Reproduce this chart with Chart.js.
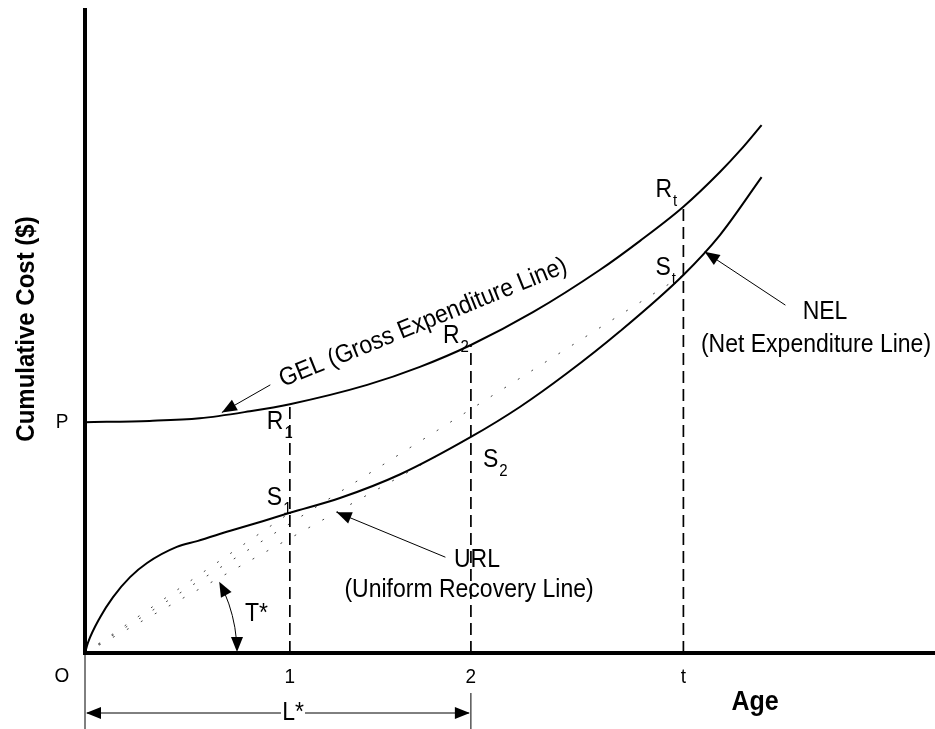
<!DOCTYPE html>
<html>
<head>
<meta charset="utf-8">
<script src="https://cdn.jsdelivr.net/npm/chart.js@4.4.1/dist/chart.umd.min.js"></script>
<style>
  html, body { margin: 0; padding: 0; background: #fff; }
  #wrap { position: relative; width: 935px; height: 729px; }
</style>
</head>
<body>
<div id="wrap"><canvas id="costChart"></canvas></div>
<script>
// age and cumulative cost both on an arbitrary 0..100 scale
const gelAge  = [0, 7.6, 13.5, 19.4, 24.1, 33.2, 39.4, 45.4, 52.7, 60.6, 65.3, 70.4, 74.7, 77.1, 79.6];
const gelCost = [35.9, 36.1, 36.5, 37.6, 38.7, 41.7, 44.5, 47.9, 53.0, 59.6, 64.1, 69.4, 74.8, 78.2, 82.1];

const nelAge  = [0, 0.35, 1.8, 3.3, 5.3, 7.3, 10.8, 13.2, 17.1, 20.9, 24.1, 30.0, 37.1, 45.4, 51.2, 56.7, 62.9, 70.4, 74.7, 79.6];
const nelCost = [0, 1.6, 5.6, 8.7, 11.8, 14.0, 16.5, 17.4, 19.0, 20.5, 21.8, 24.1, 27.8, 33.6, 38.3, 43.5, 50.0, 58.8, 65.0, 74.0];

const markAge    = [24.1, 45.4, 70.4];   // ages 1, 2 and t
const markLabels = ['1', '2', 't'];
const markSub    = ['1', '2', 't'];
const gelAtMark  = [38.7, 47.9, 69.4];   // R1, R2, Rt
const nelAtMark  = [21.8, 33.6, 58.8];   // S1, S2, St
const pCost = 35.9;
const lStarAge = 45.4;

const pts = (xs, ys) => xs.map((x, i) => ({ x, y: ys[i] }));
const FONT = '"Liberation Sans", Arial, sans-serif';

const datasets = [
    { data: pts(gelAge, gelCost), borderWidth: 2, cubicInterpolationMode: 'monotone' },
    { data: pts(nelAge, nelCost), borderWidth: 2, cubicInterpolationMode: 'monotone' },
    { data: [{ x: 0, y: 0 }, { x: 0, y: 100 }], borderWidth: 4, clip: false, borderCapStyle: 'square' },
    { data: [{ x: 0, y: 0 }, { x: 100, y: 0 }], borderWidth: 4, clip: false, borderCapStyle: 'square' }
];
markAge.forEach((a, i) => {
    datasets.push({ data: [{ x: a, y: 0 }, { x: a, y: gelAtMark[i] }], borderWidth: 1.7, borderDash: [12, 6] });
    datasets.push({ data: [{ x: 0, y: 0 }, { x: a, y: nelAtMark[i] }], borderWidth: 1, borderDash: [2, 14], borderColor: '#444' });
});

function arrowHead(ctx, x, y, dx, dy, len = 15, half = 6) {
    const l = Math.hypot(dx, dy), ux = dx / l, uy = dy / l;
    ctx.beginPath();
    ctx.moveTo(x, y);
    ctx.lineTo(x - ux * len - uy * half, y - uy * len + ux * half);
    ctx.lineTo(x - ux * len + uy * half, y - uy * len - ux * half);
    ctx.closePath();
    ctx.fill();
}

function pointer(ctx, x1, y1, x2, y2) {
    ctx.beginPath();
    ctx.moveTo(x1, y1);
    ctx.lineTo(x2, y2);
    ctx.stroke();
    arrowHead(ctx, x2, y2, x2 - x1, y2 - y1);
}

function text(ctx, s, x, y, size, opts = {}) {
    ctx.save();
    ctx.translate(x, y);
    if (opts.rot) ctx.rotate(opts.rot);
    ctx.scale(1, 1.1);
    ctx.font = (opts.bold ? 'bold ' : '') + size + 'px ' + FONT;
    ctx.textAlign = opts.align || 'left';
    ctx.textBaseline = opts.base || 'alphabetic';
    ctx.fillText(s, 0, 0);
    ctx.restore();
}

function subLabel(ctx, main, sub, x, y) {
    ctx.font = '23px ' + FONT;
    const w = ctx.measureText(main).width;
    text(ctx, main, x, y, 23);
    text(ctx, sub, x + w + 1, y + 9, 15);
}

const annotations = {
    id: 'annotations',
    afterDatasetsDraw(chart) {
        const ctx = chart.ctx;
        const X = v => chart.scales.x.getPixelForValue(v);
        const Y = v => chart.scales.y.getPixelForValue(v);
        ctx.save();
        ctx.fillStyle = '#000';
        ctx.strokeStyle = '#000';
        ctx.lineWidth = 1;

        // tick labels
        text(ctx, 'O', 62, Y(0) + 23, 19, { align: 'center', base: 'middle' });
        text(ctx, 'P', 62, Y(pCost), 19, { align: 'center', base: 'middle' });
        markAge.forEach((a, i) => text(ctx, markLabels[i], X(a), Y(0) + 24, 19, { align: 'center', base: 'middle' }));

        // axis titles
        text(ctx, 'Age', 755, 702, 25, { bold: true, align: 'center', base: 'middle' });
        text(ctx, 'Cumulative Cost ($)', 27, 329, 24, { bold: true, align: 'center', base: 'middle', rot: -Math.PI / 2 });

        // R and S labels
        ['R', 'S'].forEach(letter => {
            const vals = letter === 'R' ? gelAtMark : nelAtMark;
            markAge.forEach((a, i) => {
                let dx = -23, dy = -4;
                if (letter === 'S' && i === 1) { dx = 12; dy = 30; }
                if (letter === 'R' && i === 1) { dx = -28; dy = -2; }
                if (letter === 'R' && i === 0) { dy = 25; }
                if (letter === 'S' && i === 0) { dy = -8; }
                if (letter === 'R' && i === 2) { dx = -28; dy = -10; }
                if (letter === 'S' && i === 2) { dx = -28; dy = 0; }
                subLabel(ctx, letter, markSub[i], X(a) + dx, Y(vals[i]) + dy);
            });
        });

        // line names
        text(ctx, 'GEL (Gross Expenditure Line)', 283, 387, 23, { rot: -22 * Math.PI / 180 });
        text(ctx, 'NEL', 825, 312, 23, { align: 'center', base: 'middle' });
        text(ctx, '(Net Expenditure Line)', 816, 345, 23, { align: 'center', base: 'middle' });
        text(ctx, 'URL', 477, 560, 23, { align: 'center', base: 'middle' });
        text(ctx, '(Uniform Recovery Line)', 469, 590, 23, { align: 'center', base: 'middle' });

        // pointers
        pointer(ctx, X(21.8), Y(41.7), X(16.1), Y(37.4));
        pointer(ctx, X(42.4), Y(14.9), X(29.6), Y(21.9));
        pointer(ctx, X(82.4), Y(54.1), X(72.9), Y(62.4));

        // T* angle arc
        const ox = X(0), oy = Y(0), r = 152, th = 28 * Math.PI / 180;
        ctx.beginPath();
        ctx.arc(ox, oy, r, -th + 0.08, -0.09);
        ctx.stroke();
        arrowHead(ctx, ox + r, oy - 1, 0, 1);
        arrowHead(ctx, ox + r * Math.cos(th), oy - r * Math.sin(th), -Math.sin(th), -Math.cos(th));
        text(ctx, 'T*', 245, 614, 23, { base: 'middle' });

        // L* dimension
        const ly = 713, lx2 = X(lStarAge);
        ctx.beginPath();
        ctx.moveTo(ox, oy); ctx.lineTo(ox, 729);
        ctx.moveTo(lx2, 693); ctx.lineTo(lx2, 729);
        ctx.moveTo(ox + 2, ly); ctx.lineTo(lx2 - 2, ly);
        ctx.stroke();
        arrowHead(ctx, ox + 1, ly, -1, 0);
        arrowHead(ctx, lx2 - 1, ly, 1, 0);
        ctx.fillStyle = '#fff';
        ctx.fillRect(281, 700, 24, 26);
        ctx.fillStyle = '#000';
        text(ctx, 'L*', 293, ly, 23, { align: 'center', base: 'middle' });

        ctx.restore();
    }
};

new Chart(document.getElementById('costChart'), {
    type: 'line',
    data: { datasets },
    options: {
        responsive: true,
        maintainAspectRatio: false,
        animation: false,
        events: [],
        layout: { padding: { left: 85, right: 0, top: 10, bottom: 76 } },
        elements: {
            point: { radius: 0 },
            line: { borderColor: '#000', tension: 0, fill: false }
        },
        plugins: { legend: { display: false }, tooltip: { enabled: false } },
        scales: {
            x: { type: 'linear', min: 0, max: 100, display: false },
            y: { type: 'linear', min: 0, max: 100, display: false }
        }
    },
    plugins: [annotations]
});
</script>
</body>
</html>
